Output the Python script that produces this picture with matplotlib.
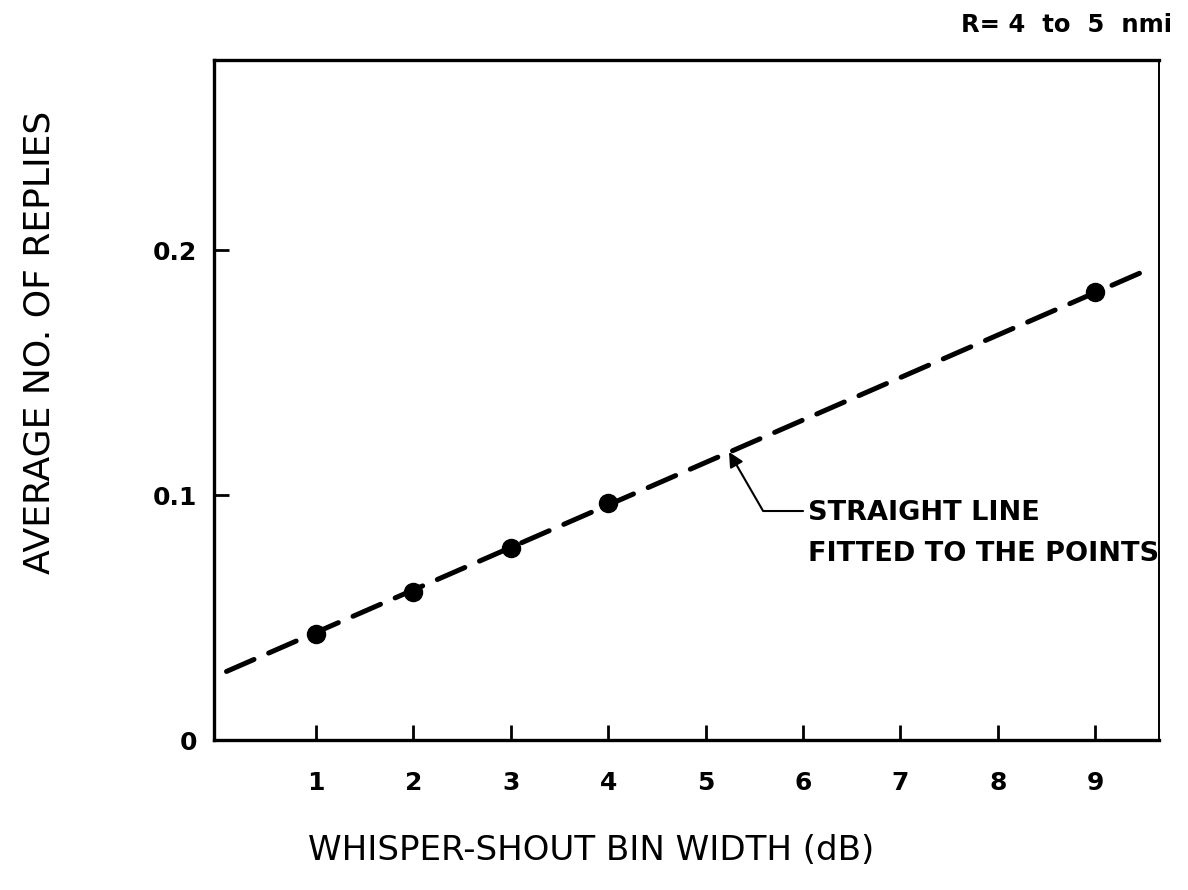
import numpy as np
import matplotlib
matplotlib.use('Agg')
import matplotlib.pyplot as plt

plt.rcParams['font.family'] = ['DejaVu Sans']

# measured points (bin width in dB vs average number of replies)
bin_width = [1, 2, 3, 4, 9]
avg_replies = [0.0433, 0.0604, 0.0784, 0.0967, 0.183]

# ends of the fitted straight line
fit_x = [0.08, 9.48]
fit_y = [0.028, 0.191]

xticks = [1, 2, 3, 4, 5, 6, 7, 8, 9]
yticks = [0, 0.1, 0.2]
ytick_labels = ['0', '0.1', '0.2']

fig = plt.figure(figsize=(11.88, 8.90), dpi=100)
ax = fig.add_axes([0.180, 0.1685, 0.796, 0.764])

ax.plot(fit_x, fit_y, color='k', lw=3.6, dashes=(6, 3.2), solid_capstyle='round',
        dash_capstyle='round')
ax.plot(bin_width, avg_replies, 'o', color='k', ms=13, zorder=3)

ax.set_xlim(-0.05, 9.66)
ax.set_ylim(0, 0.2776)

ax.set_xticks(xticks)
ax.set_xticklabels([str(t) for t in xticks])
ax.set_yticks(yticks)
ax.set_yticklabels(ytick_labels)
ax.tick_params(axis='both', direction='in', length=11, width=2, labelsize=18)
ax.tick_params(axis='x', pad=22)
ax.tick_params(axis='y', pad=12)
for lab in ax.get_xticklabels() + ax.get_yticklabels():
    lab.set_fontweight('bold')

for side in ['left', 'bottom', 'top']:
    ax.spines[side].set_linewidth(2.4)
ax.spines['right'].set_linewidth(1.4)

ax.set_xlabel('WHISPER-SHOUT BIN WIDTH (dB)', fontsize=24.5, va='center')
ax.xaxis.set_label_coords(0.399, -0.163)
ax.set_ylabel('AVERAGE NO. OF REPLIES', fontsize=26, va='center')
ax.yaxis.set_label_coords(-0.184, 0.585)

# arrow pointing at the fitted line
ax.annotate('', xy=(5.24, 0.1176), xytext=(6.0, 0.0935),
            arrowprops=dict(arrowstyle='-|>', color='k', lw=1.5,
                            connectionstyle='angle,angleA=0,angleB=120,rad=0',
                            shrinkA=0, shrinkB=0, mutation_scale=22))
ax.text(6.05, 0.0927, 'STRAIGHT LINE', fontsize=19.5, fontweight='bold',
        ha='left', va='center')
ax.text(6.05, 0.0759, 'FITTED TO THE POINTS', fontsize=19.5, fontweight='bold',
        ha='left', va='center')

ax.text(1.013, 1.051, 'R= 4  to  5  nmi', transform=ax.transAxes, fontsize=17.5,
        fontweight='bold', ha='right', va='center')

fig.savefig('out.png', dpi=100)
